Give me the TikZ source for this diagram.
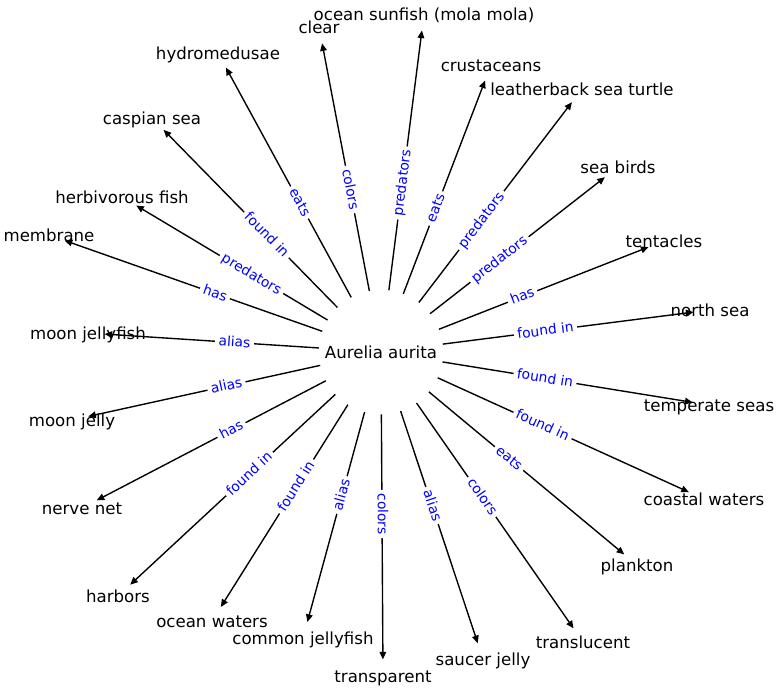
\documentclass[tikz,border=0pt]{standalone}
\usepackage{fontspec}
\setmainfont{DejaVu Sans}
\usetikzlibrary{arrows.meta}
\begin{document}
\begin{tikzpicture}[x=0.7227pt,y=-0.7227pt,
  nlabel/.style={font=\fontsize{12}{14}\selectfont, text=black, inner sep=0pt, text height=0.96em, text depth=0em},
  elabel/.style={font=\fontsize{10}{12}\selectfont, text=blue, fill=white, inner sep=2.5pt, rounded corners=2pt, sloped, midway, text height=0.8em, text depth=0.2em},
  edge/.style={draw=black, line width=1pt, -{Triangle[length=5.5pt,width=4.8pt]}, shorten <=45pt, shorten >=12pt}]
\useasboundingbox (0,0) rectangle (778,691);
\node[nlabel] (c) at (381,352) {Aurelia aurita};
\node[nlabel] (t1) at (424,14) {ocean sunfish (mola mola)};
\node[nlabel] (t2) at (319,27) {clear};
\node[nlabel] (t3) at (218,53) {hydromedusae};
\node[nlabel] (t4) at (491,65) {crustaceans};
\node[nlabel] (t5) at (582,89) {leatherback sea turtle};
\node[nlabel] (t6) at (152,118) {caspian sea};
\node[nlabel] (t7) at (618,167) {sea birds};
\node[nlabel] (t8) at (122,197) {herbivorous fish};
\node[nlabel] (t9) at (49,235) {membrane};
\node[nlabel] (t10) at (664,241) {tentacles};
\node[nlabel] (t11) at (710,310) {north sea};
\node[nlabel] (t12) at (88,333) {moon jellyfish};
\node[nlabel] (t13) at (709,405) {temperate seas};
\node[nlabel] (t14) at (72,420) {moon jelly};
\node[nlabel] (t15) at (704,499) {coastal waters};
\node[nlabel] (t16) at (82,508) {nerve net};
\node[nlabel] (t17) at (637,565) {plankton};
\node[nlabel] (t18) at (118,596) {harbors};
\node[nlabel] (t19) at (583,642) {translucent};
\node[nlabel] (t20) at (212,621) {ocean waters};
\node[nlabel] (t21) at (303,638) {common jellyfish};
\node[nlabel] (t22) at (483,659) {saucer jelly};
\node[nlabel] (t23) at (383,676) {transparent};
\draw[edge] (c.center) -- node[elabel]{predators} (t1.center);
\draw[edge] (c.center) -- node[elabel]{colors} (t2.center);
\draw[edge] (c.center) -- node[elabel]{eats} (t3.center);
\draw[edge] (c.center) -- node[elabel]{eats} (t4.center);
\draw[edge] (c.center) -- node[elabel]{predators} (t5.center);
\draw[edge] (c.center) -- node[elabel]{found in} (t6.center);
\draw[edge] (c.center) -- node[elabel]{predators} (t7.center);
\draw[edge] (c.center) -- node[elabel]{predators} (t8.center);
\draw[edge] (c.center) -- node[elabel]{has} (t9.center);
\draw[edge] (c.center) -- node[elabel]{has} (t10.center);
\draw[edge] (c.center) -- node[elabel]{found in} (t11.center);
\draw[edge] (c.center) -- node[elabel]{alias} (t12.center);
\draw[edge] (c.center) -- node[elabel]{found in} (t13.center);
\draw[edge] (c.center) -- node[elabel]{alias} (t14.center);
\draw[edge] (c.center) -- node[elabel]{found in} (t15.center);
\draw[edge] (c.center) -- node[elabel]{has} (t16.center);
\draw[edge] (c.center) -- node[elabel]{eats} (t17.center);
\draw[edge] (c.center) -- node[elabel]{found in} (t18.center);
\draw[edge] (c.center) -- node[elabel]{colors} (t19.center);
\draw[edge] (c.center) -- node[elabel]{found in} (t20.center);
\draw[edge] (c.center) -- node[elabel]{alias} (t21.center);
\draw[edge] (c.center) -- node[elabel]{alias} (t22.center);
\draw[edge] (c.center) -- node[elabel]{colors} (t23.center);
\end{tikzpicture}
\end{document}
